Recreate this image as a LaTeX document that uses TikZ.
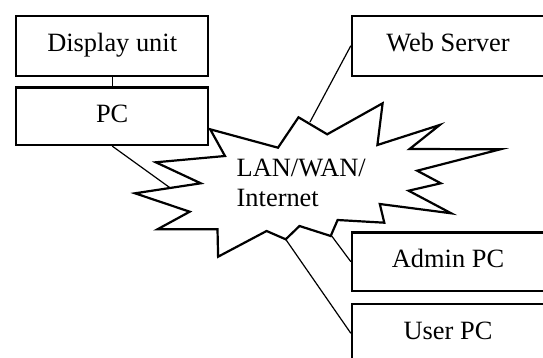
\documentclass[tikz,border=0pt]{standalone}
\usepackage{fontspec}
\setmainfont{Liberation Serif}
\begin{document}
\begin{tikzpicture}[x=1pt,y=-1pt,
  box/.style={draw,line width=2.3pt,minimum width=192pt,inner sep=0pt,
    text height=18pt,text depth=5.7pt,font=\fontsize{26.4}{30}\selectfont},
  link/.style={line width=1.2pt},
  cloudline/.style={draw,fill=white,line width=2.2pt,line join=miter},
  lbl/.style={inner sep=0pt,anchor=base west,font=\fontsize{26.4}{30}\selectfont}]
\useasboundingbox (0,0) rectangle (543,358);
\clip (0,0) rectangle (543,358);
% boxes
\node[box,minimum height=60pt] (disp) at (112.2,45.7) {Display unit};
\node[box,minimum height=57.3pt] (pc) at (112.2,116.3) {PC};
\node[box,minimum height=60pt] (web) at (448,45.7) {Web Server};
\node[box,minimum height=58.7pt] (admin) at (448,261.7) {Admin PC};
\node[box,minimum height=59pt] (user) at (448,333.3) {User PC};
% cloud attachment points
\coordinate (cpc) at (171,188.5);
\coordinate (cweb) at (310,122);
\coordinate (cadmin) at (331.7,236);
\coordinate (cuser) at (285.7,239.3);
% connectors
\draw[link] (disp.south) -- (pc.north);
\draw[link] (pc.south) -- (cpc);
\draw[link] (web.west) -- (cweb);
\draw[link] (admin.west) -- (cadmin);
\draw[link] (user.west) -- (cuser);
% cloud
\path[cloudline] (210.2,129.3) -- (278.0,147.7) -- (298.5,117.3) -- (327.2,134.3)
  -- (382.6,103.3) -- (377.4,145) -- (439.7,125) -- (409.6,149) -- (500.3,149.3)
  -- (417.2,170.7) -- (440.8,183.3) -- (408.6,190.7) -- (451.2,213.3) -- (379.8,204)
  -- (384.3,222.7) -- (337.6,220) -- (330.7,236) -- (299.5,226) -- (285.7,239.3)
  -- (266.6,231) -- (218.1,256.7) -- (217.5,229.3) -- (157.5,229.3) -- (189.7,211.7)
  -- (135,193.3) -- (200.8,183.3) -- (155.8,162.3) -- (225,156) -- cycle;
\node[lbl] (lan) at (236.5,176.7) {LAN/WAN/};
\node[lbl] (inet) at (236.5,206.7) {Internet};
\end{tikzpicture}
\end{document}
